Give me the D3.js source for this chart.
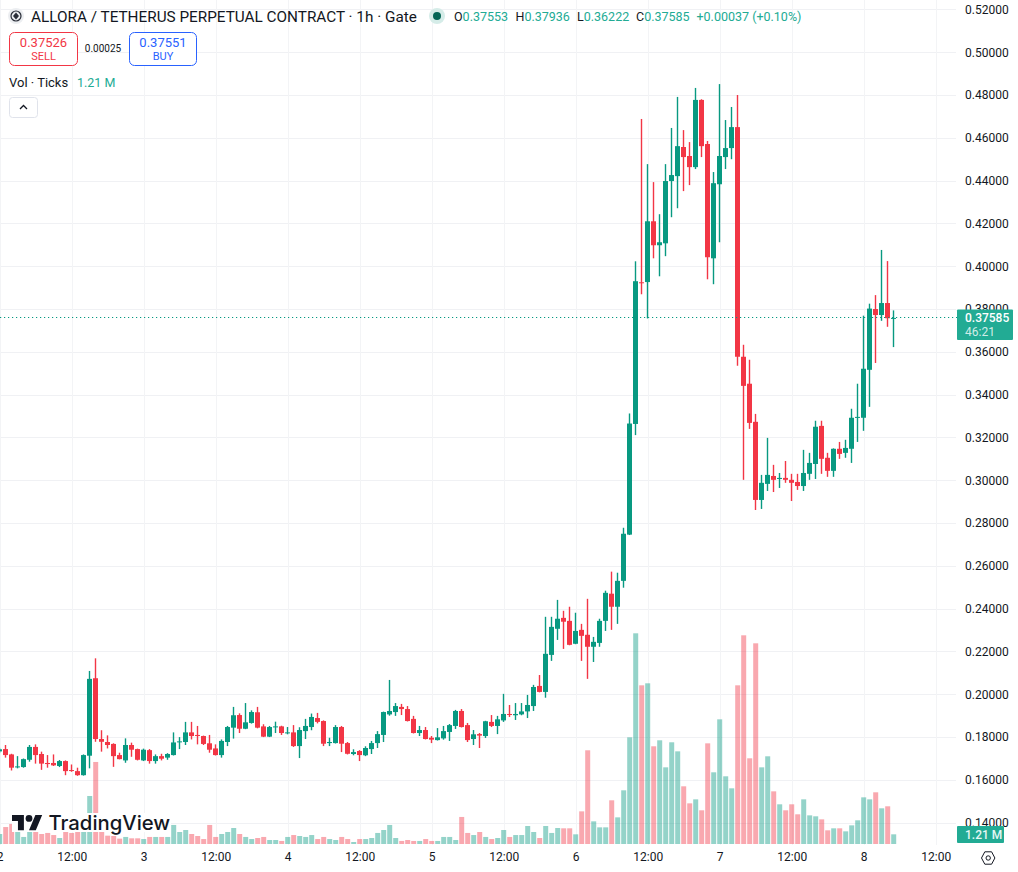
<!DOCTYPE html>
<html>
<head>
<meta charset="utf-8">
<title>ALLORA / TETHERUS PERPETUAL CONTRACT</title>
<script src="https://cdn.jsdelivr.net/npm/d3@7/dist/d3.min.js"></script>
<style>
  html, body { margin: 0; padding: 0; background: #fff; }
  svg { display: block; }
  text { font-family: Roboto, "Noto Sans", sans-serif; fill: #131722; }
</style>
</head>
<body>
<svg id="chart" width="1018" height="872"></svg>
<script>
// Hourly candles, one entry per hour starting at 00:00 on the 2nd.
const opens = [
  .1733,.1744,.1719,.1660,.1660,.1694,.1754,.1721,.1679,.1679,
  .1665,.1688,.1646,.1641,.1622,.1713,.2075,.1791,.1777,.1768,
  .1716,.1691,.1763,.1744,.1691,.1739,.1688,.1711,.1704,.1716,
  .1777,.1777,.1822,.1810,.1805,.1771,.1747,.1716,.1777,.1844,
  .1903,.1839,.1866,.1916,.1850,.1802,.1847,.1850,.1819,.1822,
  .1758,.1828,.1847,.1889,.1875,.1772,.1772,.1847,.1772,.1721,
  .1735,.1715,.1744,.1772,.1810,.1906,.1917,.1941,.1931,.1885,
  .1819,.1833,.1797,.1786,.1794,.1824,.1852,.1922,.1856,.1791,
  .1814,.1805,.1871,.1852,.1878,.1908,.1902,.1906,.1920,.1945,
  .2039,.2011,.2184,.2306,.2357,.2343,.2236,.2301,.2278,.2222,
  .2240,.2343,.2470,.2409,.2530,.2746,.3263,.3925,.3926,.4210,
  .4098,.4107,.4398,.4421,.4557,.4515,.4463,.4777,.4571,.4037,
  .4383,.4510,.4552,.4650,.3577,.3451,.3273,.2908,.2983,.3020,
  .3006,.3011,.3002,.2992,.2973,.3030,.3076,.3254,.3105,.3044,
  .3147,.3128,.3147,.3292,.3292,.3516,.3800,.3772,.3828,.37553
];
const highs = [
  .1750,.1763,.1722,.1711,.1700,.1763,.1766,.1732,.1716,.1719,
  .1693,.1691,.1672,.1657,.1719,.2109,.2168,.1832,.1808,.1771,
  .1727,.1794,.1774,.1746,.1746,.1744,.1719,.1722,.1725,.1822,
  .1800,.1871,.1871,.1852,.1807,.1810,.1766,.1789,.1852,.1941,
  .1911,.1959,.1925,.1941,.1860,.1852,.1872,.1853,.1847,.1856,
  .1846,.1885,.1910,.1913,.1878,.1797,.1856,.1852,.1777,.1743,
  .1739,.1757,.1782,.1828,.1919,.2067,.1959,.1955,.1945,.1899,
  .1852,.1847,.1805,.1842,.1852,.1861,.1927,.1931,.1866,.1833,
  .1819,.1876,.1903,.1899,.2002,.1950,.1959,.1959,.1997,.2044,
  .2090,.2362,.2362,.2441,.2390,.2409,.2381,.2329,.2446,.2268,
  .2353,.2484,.2573,.2568,.2778,.3312,.4023,.4688,.4477,.4393,
  .4243,.4477,.4646,.4791,.4636,.4580,.4833,.4780,.4585,.4440,
  .4851,.4683,.4744,.4800,.3633,.3563,.3310,.3025,.3198,.3072,
  .3034,.3090,.3030,.3030,.3142,.3128,.3278,.3278,.3128,.3149,
  .3179,.3189,.3334,.3451,.3769,.3825,.3865,.4076,.4024,.37936
];
const lows = [
  .1725,.1704,.1644,.1654,.1657,.1685,.1676,.1647,.1657,.1665,
  .1660,.1622,.1638,.1619,.1620,.1654,.1778,.1732,.1747,.1661,
  .1696,.1680,.1708,.1691,.1688,.1676,.1676,.1691,.1694,.1714,
  .1744,.1763,.1789,.1766,.1763,.1727,.1714,.1704,.1758,.1793,
  .1819,.1837,.1863,.1841,.1800,.1800,.1819,.1810,.1813,.1754,
  .1702,.1791,.1832,.1864,.1758,.1758,.1770,.1730,.1719,.1715,
  .1688,.1711,.1721,.1749,.1777,.1900,.1899,.1903,.1873,.1817,
  .1805,.1789,.1772,.1784,.1788,.1782,.1838,.1845,.1777,.1763,
  .1749,.1796,.1847,.1814,.1871,.1894,.1880,.1902,.1889,.1922,
  .2009,.1984,.2156,.2254,.2212,.2229,.2234,.2156,.2072,.2151,
  .2222,.2296,.2301,.2329,.2498,.2744,.3211,.3869,.3756,.4037,
  .3953,.4047,.4229,.4271,.4351,.4379,.4454,.4510,.3939,.3916,
  .4112,.4454,.4500,.3535,.3002,.3240,.2861,.2866,.2950,.2945,
  .2964,.2988,.2903,.2955,.2950,.3002,.3006,.3030,.3016,.3016,
  .3100,.3105,.3081,.3179,.3231,.3343,.3548,.3745,.3717,.36222
];
const closes = [
  .1743,.1716,.1657,.1663,.1697,.1754,.1716,.1676,.1674,.1668,
  .1688,.1641,.1643,.1622,.1716,.2072,.1791,.1778,.1763,.1711,
  .1697,.1763,.1741,.1694,.1741,.1688,.1711,.1699,.1721,.1775,
  .1780,.1822,.1805,.1805,.1768,.1741,.1716,.1782,.1847,.1902,
  .1839,.1869,.1917,.1844,.1802,.1847,.1850,.1819,.1822,.1758,
  .1833,.1852,.1894,.1871,.1769,.1777,.1847,.1769,.1722,.1730,
  .1716,.1749,.1772,.1814,.1917,.1922,.1945,.1931,.1875,.1819,
  .1833,.1791,.1788,.1799,.1828,.1856,.1922,.1847,.1786,.1813,
  .1807,.1874,.1852,.1883,.1908,.1905,.1908,.1920,.1950,.2034,
  .2011,.2189,.2315,.2353,.2339,.2231,.2296,.2273,.2222,.2245,
  .2343,.2474,.2409,.2530,.2750,.3265,.3930,.3922,.4210,.4098,
  .4112,.4398,.4426,.4561,.4510,.4463,.4777,.4561,.4042,.4388,
  .4515,.4552,.4650,.3577,.3441,.3268,.2908,.2988,.3025,.3002,
  .3011,.3002,.2988,.2973,.3034,.3081,.3250,.3100,.3044,.3147,
  .3123,.3151,.3292,.3296,.3521,.3802,.3772,.3828,.3757,.37585
];
// Tick volume per candle, in millions.
const volumes = [
  1.25,2.12,2.50,1.67,.88,1.58,1.58,1.25,1.38,1.12,
  .75,1.75,1.38,1.58,1.58,6.00,10.25,1.58,1.04,1.00,
  .67,.88,.71,.71,.62,.88,.88,.88,.88,2.38,
  1.50,1.75,1.25,1.00,.62,2.38,.88,1.25,1.50,2.00,
  1.25,.88,.62,.75,.88,.50,.50,.38,.88,1.12,
  1.00,.88,1.12,.62,.88,.62,.50,.88,.62,.25,
  .62,.62,.75,1.38,1.75,2.38,.75,.38,.50,.38,
  .38,.62,.38,.38,.88,.88,.50,3.38,1.38,1.12,
  1.50,.88,.62,.75,1.75,.88,1.12,1.12,2.25,1.50,
  .75,2.25,1.38,2.00,1.96,1.96,1.21,4.08,11.71,2.83,
  2.08,2.08,5.46,3.33,6.71,13.33,26.33,19.83,20.08,12.21,
  12.96,9.58,12.71,11.58,7.21,5.08,5.58,4.21,12.58,8.96,
  15.58,8.46,6.96,19.83,26.08,10.71,25.08,9.58,10.96,6.58,
  4.96,4.21,4.96,3.71,5.58,3.58,3.46,3.08,1.71,1.96,
  1.96,1.58,2.33,2.96,5.83,5.58,6.46,4.46,4.71,1.21
];
const priceTicks = [.52,.50,.48,.46,.44,.42,.40,.38,.36,.34,.32,.30,.28,.26,.24,.22,.20,.18,.16,.14];
const hourTicks = [0,12,24,36,48,60,72,84,96,108,120,132,144,156];
const hourLabels = ["2","12:00","3","12:00","4","12:00","5","12:00","6","12:00","7","12:00","8","12:00"];
const lastPrice = .37585;

const GREEN = "#089981", RED = "#f23645", TEAL = "#22ab94";
const svg = d3.select("#chart");

const x = d3.scaleLinear().domain([0, 149]).range([-0.3, 893.7]);
const y = d3.scaleLinear().domain([.48, .14]).range([95, 822.7]);
const yVol = d3.scaleLinear().domain([0, 26.33]).range([844, 633.3]);
const isUp = i => closes[i] >= opens[i];
const indices = d3.range(opens.length);

// Grid
const grid = svg.append("g");
grid.selectAll("line.h").data(priceTicks).join("line").attr("class", "h")
  .attr("x1", 0).attr("x2", 956)
  .attr("y1", d => Math.round(y(d)) + .5).attr("y2", d => Math.round(y(d)) + .5)
  .attr("stroke", "#f0f1f4");
grid.selectAll("line.v").data(hourTicks).join("line").attr("class", "v")
  .attr("y1", 0).attr("y2", 845)
  .attr("x1", d => Math.round(x(d)) + .5).attr("x2", d => Math.round(x(d)) + .5)
  .attr("stroke", "#f3f4f6");

// Volume bars
svg.append("g").selectAll("rect").data(indices).join("rect")
  .attr("x", i => x(i) - 2.5).attr("width", 5)
  .attr("y", i => yVol(volumes[i])).attr("height", i => yVol(0) - yVol(volumes[i]))
  .attr("fill", i => isUp(i) ? GREEN : RED).attr("fill-opacity", .43);

// Watermark sits over the volume bars
const mark = svg.append("g");
mark.append("rect").attr("x", 12).attr("y", 813).attr("width", 159).attr("height", 19).attr("fill", "#fff");
mark.append("path")
  .attr("transform", "translate(12,811.6) scale(.85)")
  .attr("d", "M14 22H7V11H0V4h14v18zM28 22h-8l7.5-18h8L28 22z")
  .attr("fill", "#131722");
mark.append("circle").attr("cx", 12 + 20 * .85).attr("cy", 811.6 + 8 * .85).attr("r", 3.4).attr("fill", "#131722");
mark.append("text").attr("x", 48.5).attr("y", 830).attr("font-size", 20.3).attr("font-weight", 500)
  .style("font-family", "Inter, Roboto, sans-serif").text("TradingView");

// Candles
const candles = svg.append("g");
candles.selectAll("rect.wick").data(indices).join("rect").attr("class", "wick")
  .attr("x", i => Math.floor(x(i)) - .2).attr("width", 1.4)
  .attr("y", i => y(highs[i])).attr("height", i => y(lows[i]) - y(highs[i]))
  .attr("fill", i => isUp(i) ? GREEN : RED);
candles.selectAll("rect.body").data(indices).join("rect").attr("class", "body")
  .attr("x", i => Math.floor(x(i)) - 2).attr("width", 5)
  .attr("y", i => y(Math.max(opens[i], closes[i])))
  .attr("height", i => Math.max(1, Math.abs(y(opens[i]) - y(closes[i]))))
  .attr("fill", i => isUp(i) ? GREEN : RED);

// Last price line
svg.append("line").attr("x1", 0).attr("x2", 957)
  .attr("y1", Math.round(y(lastPrice)) - .5).attr("y2", Math.round(y(lastPrice)) - .5)
  .attr("stroke", GREEN).attr("stroke-width", 1.2).attr("stroke-dasharray", "1.2 2.8");

// Price axis
const priceAxis = svg.append("g").attr("transform", "translate(965,0)")
  .call(d3.axisRight(y).tickValues(priceTicks).tickFormat(d3.format(".5f")).tickSize(0).tickPadding(0));
priceAxis.select(".domain").remove();
priceAxis.selectAll("text").attr("font-size", 12).style("font-family", "Roboto, sans-serif").attr("fill", "#131722");

// Time axis
const timeAxis = svg.append("g").attr("transform", "translate(0,852.5)")
  .call(d3.axisBottom(x).tickValues(hourTicks).tickFormat((d, i) => hourLabels[i]).tickSize(0).tickPadding(0));
timeAxis.select(".domain").remove();
timeAxis.selectAll("text").attr("font-size", 12).style("font-family", "Roboto, sans-serif").attr("fill", "#131722");

// Price and volume tags on the axis
svg.append("rect").attr("x", 957).attr("y", 309.5).attr("width", 56).attr("height", 30.5).attr("rx", 1).attr("fill", TEAL);
svg.append("text").attr("x", 965).attr("y", 321.5).attr("font-size", 12).attr("font-weight", 500)
  .style("fill", "#fff").text("0.37585");
svg.append("text").attr("x", 965).attr("y", 335.5).attr("font-size", 12)
  .style("fill", "#fff").style("fill-opacity", .8).text("46:21");
svg.append("rect").attr("x", 957).attr("y", 826).attr("width", 47).attr("height", 17).attr("rx", 1).attr("fill", TEAL);
svg.append("text").attr("x", 965).attr("y", 839).attr("font-size", 12).attr("font-weight", 500)
  .style("fill", "#e6f7f4").text("1.21 M");

// Settings icon
svg.append("path").attr("d", "M981.5 858l3.3-6.2h6.8l3.3 6.2-3.3 6.2h-6.8z")
  .attr("fill", "none").attr("stroke", "#131722").attr("stroke-width", 1);
svg.append("circle").attr("cx", 988.2).attr("cy", 858).attr("r", 2.2)
  .attr("fill", "none").attr("stroke", "#131722");

// Legend header
svg.append("circle").attr("cx", 16).attr("cy", 16).attr("r", 8).attr("fill", "#eceef1");
svg.append("circle").attr("cx", 16).attr("cy", 16).attr("r", 5).attr("fill", "none").attr("stroke", "#2a2e39").attr("stroke-width", 1.2);
svg.append("path").attr("d", "M16 12.5l3 3.5-3 3.5-3-3.5z").attr("fill", "#2a2e39");
svg.append("text").attr("x", 31).attr("y", 22).attr("font-size", 15.3)
  .text("ALLORA / TETHERUS PERPETUAL CONTRACT · 1h · Gate");
svg.append("circle").attr("cx", 437).attr("cy", 16).attr("r", 8).attr("fill", "#d5ece8");
svg.append("circle").attr("cx", 437).attr("cy", 16).attr("r", 4).attr("fill", "#056656");

const ohlcLegend = [
  ["O", "0.37553", 454], ["H", "0.37936", 515.5], ["L", "0.36222", 577], ["C", "0.37585", 636]
];
ohlcLegend.forEach(([k, v, px]) => {
  const t = svg.append("text").attr("x", px).attr("y", 21).attr("font-size", 12.5);
  t.append("tspan").text(k);
  t.append("tspan").style("fill", TEAL).text(v);
});
svg.append("text").attr("x", 696.5).attr("y", 21).attr("font-size", 12.5).style("fill", TEAL).text("+0.00037 (+0.10%)");

// Sell / buy boxes
svg.append("rect").attr("x", 9.5).attr("y", 32.5).attr("width", 68).attr("height", 33).attr("rx", 5)
  .attr("fill", "#fff").attr("stroke", RED);
svg.append("text").attr("x", 43.5).attr("y", 46.5).attr("text-anchor", "middle").attr("font-size", 13)
  .style("fill", RED).text("0.37526");
svg.append("text").attr("x", 43.5).attr("y", 60).attr("text-anchor", "middle").attr("font-size", 11)
  .style("fill", RED).text("SELL");
svg.append("text").attr("x", 103).attr("y", 52).attr("text-anchor", "middle").attr("font-size", 10).text("0.00025");
svg.append("rect").attr("x", 129.5).attr("y", 32.5).attr("width", 67).attr("height", 33).attr("rx", 5)
  .attr("fill", "#fff").attr("stroke", "#2962ff");
svg.append("text").attr("x", 163).attr("y", 46.5).attr("text-anchor", "middle").attr("font-size", 13)
  .style("fill", "#2962ff").text("0.37551");
svg.append("text").attr("x", 163).attr("y", 60).attr("text-anchor", "middle").attr("font-size", 11)
  .style("fill", "#2962ff").text("BUY");

// Volume legend and collapse button
svg.append("text").attr("x", 9).attr("y", 87).attr("font-size", 13).text("Vol · Ticks");
svg.append("text").attr("x", 77).attr("y", 87).attr("font-size", 12.5).style("fill", TEAL).text("1.21 M");
svg.append("rect").attr("x", 9.5).attr("y", 97.5).attr("width", 28).attr("height", 20).attr("rx", 3)
  .attr("fill", "#fff").attr("stroke", "#e0e3eb");
svg.append("path").attr("d", "M20 109l3.5-3.5 3.5 3.5").attr("fill", "none").attr("stroke", "#131722").attr("stroke-width", 1.3);
</script>
</body>
</html>
